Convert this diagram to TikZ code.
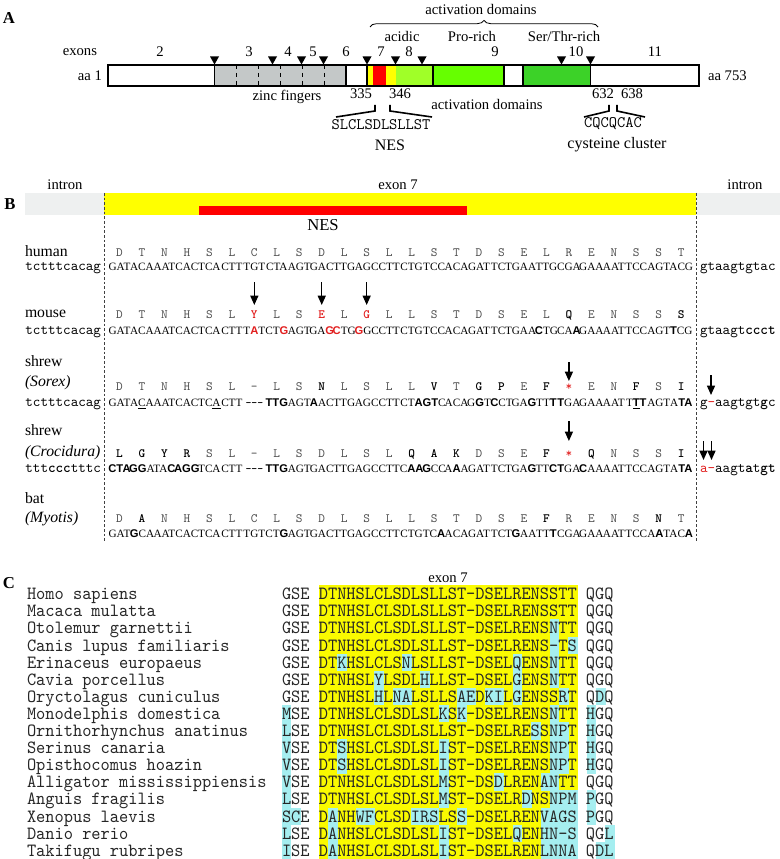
\documentclass[tikz,border=0pt]{standalone}
\usepackage{fontspec}
\setmainfont{Liberation Serif}
\setsansfont{Liberation Sans}
\newfontfamily\cmono{lmmono10-regular.otf}[FakeStretch=0.94]
\usetikzlibrary{arrows.meta,decorations.pathreplacing}
\definecolor{znc}{RGB}{196,200,200}
\definecolor{ylw}{RGB}{255,255,0}
\definecolor{nesred}{RGB}{255,0,0}
\definecolor{lgreen}{RGB}{160,255,40}
\definecolor{mgreen}{RGB}{102,255,0}
\definecolor{dgreen}{RGB}{60,210,40}
\definecolor{introng}{RGB}{238,240,240}
\definecolor{cyanh}{RGB}{165,238,240}
\definecolor{ylwc}{RGB}{250,250,0}
\definecolor{mred}{RGB}{225,30,30}
\newcommand\bb[1]{{\bfseries\color{black}#1}}
\newcommand\rb[1]{{\bfseries\color{mred}#1}}
\newcommand\rs{{\color{mred}*}}
\newcommand\db[1]{{\sffamily\bfseries #1}}
\newcommand\rd[1]{{\sffamily\bfseries\color{mred}#1}}
\newcommand\gp{{\ttfamily\bfseries -{}-{}-}}
\newcommand\uln[1]{\underline{#1}}
\newcommand\seqrow[4]{%
  \foreach \a/\c [count=\i from 0] in {#4} {
    \node[aa] (#1a\i) at ({119.5+22.47*\i},#2) {\a};
    \node[dna] (#1d\i) at ({119.5+22.47*\i},#3) {\c};
  }}
\begin{document}
\begin{tikzpicture}[x=0.75pt,y=-0.75pt,
  every node/.style={inner sep=0pt,outer sep=0pt},
  lbl/.style={font=\fontsize{11}{13}\selectfont},
  panel/.style={font=\fontsize{12.5}{14}\selectfont\bfseries},
  aa/.style={anchor=base,font=\ttfamily\fontsize{9.5}{11}\selectfont,text=black!70},
  dna/.style={anchor=base,font=\fontsize{8.4}{10}\selectfont},
  intr/.style={font=\ttfamily\fontsize{10.8}{12}\selectfont},
  spec/.style={anchor=base west,font=\fontsize{11.8}{13}\selectfont},
  cseq/.style={anchor=base west,font=\cmono\fontsize{14}{16}\selectfont,text=black!85},
  arr/.style={-{Triangle[length=7pt,width=6pt]},line width=1pt},
  brk/.style={line width=1.2pt},
  sep/.style={dash pattern=on 2pt off 1.5pt,line width=0.5pt,black!75}]
\useasboundingbox (0,0) rectangle (780,859);

% ---------------- Panel A
\node[panel] (pA) at (9,18) {A};
\node[lbl] (actTop) at (481,9) {activation domains};
\draw[decorate,decoration={brace,amplitude=5pt},line width=0.6pt] (370,27) -- (598,27);
\node[lbl] (acid) at (402,36) {acidic};
\node[lbl] (pro) at (472,36) {Pro-rich};
\node[lbl] (ser) at (564,36) {Ser/Thr-rich};

\draw[line width=0.9pt,fill=white] (108,65) rectangle (699,86);
\draw[line width=0.9pt,fill=znc] (214.5,65) rectangle (346,86);
\foreach \x in {236,258,280,302,324} \draw[dashed,line width=0.5pt] (\x,65) -- (\x,86);
\fill[ylw] (367,65) rectangle (395.5,86);
\fill[nesred] (373,65) rectangle (386,86);
\fill[lgreen] (395.5,65) rectangle (433,86);
\draw[line width=0.9pt] (367,65) rectangle (433,86);
\draw[line width=0.9pt,fill=mgreen] (433,65) rectangle (504,86);
\draw[line width=0.9pt,fill=dgreen] (523,65) rectangle (590.5,86);
\draw[line width=0.9pt] (108,65) rectangle (699,86);
\foreach \x in {214.5,272.5,301.5,323.5,367,395.5,422,561.5,590.5}
  \fill (\x-4.5,56.5) -- (\x+4.5,56.5) -- (\x,64.5) -- cycle;
\foreach \t/\x in {2/160,3/249,4/288,5/313,6/346,7/381,8/409,9/495,10/576,11/655}
  \node[lbl] (ex\t) at (\x,52) {\t};
\node[lbl,anchor=east] (exons) at (97,52) {exons};
\node[lbl,anchor=east] (aa1) at (102,76) {aa 1};
\node[lbl,anchor=west] (aa753) at (708,76) {aa 753};
\node[lbl] (zinc) at (287,97) {zinc fingers};
\node[lbl] (n335) at (361,94) {335};
\node[lbl] (n346) at (400,94) {346};
\node[lbl] (actBot) at (487,104) {activation domains};
\node[lbl] (n632) at (603,94) {632};
\node[lbl] (n638) at (632,94) {638};
\draw[brk] (375,105) -- (375,111) -- (336,117);
\draw[brk] (390,105) -- (390,111) -- (432,117);
\draw[brk] (609,105) -- (609,111) -- (584,117);
\draw[brk] (617,105) -- (617,111) -- (645,117);
\node[font=\ttfamily\fontsize{12}{14}\selectfont] (nesseq) at (381,125) {SLCLSDLSLLST};
\node[font=\fontsize{12}{14}\selectfont] (nesA) at (390,145) {NES};
\node[font=\ttfamily\fontsize{12}{14}\selectfont] (cysseq) at (613,124) {CQCQCAC};
\node[font=\fontsize{12}{14}\selectfont] (cys) at (617,145) {cysteine cluster};

% ---------------- Panel B
\node[panel] (pB) at (10,204) {B};
\node[lbl] (inL) at (65,185) {intron};
\node[lbl] (ex7) at (398,185) {exon 7};
\node[lbl] (inR) at (745,185) {intron};
\fill[introng] (25,193) rectangle (104,215);
\fill[ylw] (104,193) rectangle (696,215);
\fill[introng] (696,193) rectangle (780,215);
\fill[nesred] (199,206.5) rectangle (467,215);
\node[font=\fontsize{12.5}{14}\selectfont] (nesB) at (323,225) {NES};
\coordinate (sepL1) at (104,193); \coordinate (sepL2) at (104,543);
\coordinate (sepR1) at (696,193); \coordinate (sepR2) at (696,543);
\draw[sep] (sepL1) -- (sepL2);
\draw[sep] (sepR1) -- (sepR2);

% species labels
\node[spec] (lhum) at (25,256) {human};
\node[spec] (lmou) at (25,317) {mouse};
\node[spec] (lsh1) at (25,366) {shrew};
\node[spec] (lsor) at (25,386) {\itshape (Sorex)};
\node[spec] (lsh2) at (25,435) {shrew};
\node[spec] (lcro) at (25,456) {\itshape (Crocidura)};
\node[spec] (lbat) at (25,503) {bat};
\node[spec] (lmyo) at (25,522) {\itshape (Myotis)};

% intron flanks
\node[intr,anchor=base east] (ihL) at (101,270) {tctttcacag};
\node[intr,anchor=base west] (ihR) at (700,270) {gtaagtgtac};
\node[intr,anchor=base east] (imL) at (101,334) {tctttcacag};
\node[intr,anchor=base west] (imR) at (700,334) {gtaagt\textbf{ccct}};
\node[intr,anchor=base east] (isL) at (101,406) {tctttcacag};
\node[intr,anchor=base west] (isR) at (700,406) {g{\color{mred}-}aagtgt\textbf{g}c};
\node[intr,anchor=base east] (icL) at (101,472) {ttt\textbf{ccc}tttc};
\node[intr,anchor=base west] (icR) at (700,472) {{\color{mred}a-}aagt\textbf{a}t\textbf{gt}};

% sequences
\seqrow{hu}{256}{270}{D/GAT,T/ACA,N/AAT,H/CAC,S/TCA,L/CTT,C/TGT,L/CTA,S/AGT,D/GAC,L/TTG,S/AGC,L/CTT,L/CTG,S/TCC,T/ACA,D/GAT,S/TCT,E/GAA,L/TTG,R/CGA,E/GAA,N/AAT,S/TCC,S/AGT,T/ACG}
\seqrow{mo}{318}{334}{D/GAT,T/ACA,N/AAT,H/CAC,S/TCA,L/CTT,\rb{Y}/T\rd{A}T,L/CT\rd{G},S/AGT,\rb{E}/GA\rd{G},L/\rd{C}TG,\rb{G}/\rd{G}GC,L/CTT,L/CTG,S/TCC,T/ACA,D/GAT,S/TCT,E/GAA,L/\db{C}TG,\bb{Q}/CA\db{A},E/GAA,N/AAT,S/TCC,S/AGT,\bb{S}/\db{T}CG}
\seqrow{so}{390}{406}{D/GAT,T/A\uln{C}A,N/AAT,H/CAC,S/TC\uln{A},L/CTT,-/\gp,L/\db{TTG},S/AGT,\bb{N}/\db{A}AC,L/TTG,S/AGC,L/CTT,L/CT\db{A},\bb{V}/\db{GT}C,T/ACA,\bb{G}/G\db{G}T,\bb{P}/\db{C}CT,E/GA\db{G},\bb{F}/TT\db{T},\rs/\db{T}GA,E/GAA,N/AAT,\bb{F}/T\uln{\db{T}}\db{T},S/AGT,\bb{I}/A\db{TA}}
\seqrow{cr}{457}{472}{\bb{L}/\db{CTA},\bb{G}/\db{GG}A,\bb{Y}/TA\db{C},\bb{R}/\db{AGG},S/TCA,L/CTT,-/\gp,L/\db{TTG},S/AGT,D/GAC,L/TTG,S/AGC,L/CTT,\bb{Q}/C\db{AA},\bb{A}/\db{G}CC,\bb{K}/A\db{A}A,D/GAT,S/TCT,E/GA\db{G},\bb{F}/TT\db{C},\rs/\db{T}GA,\bb{Q}/\db{C}AA,N/AAT,S/TCC,S/AGT,\bb{I}/A\db{TA}}
\seqrow{ba}{522}{537}{D/GAT,\bb{A}/\db{G}CA,N/AAT,H/CAC,S/TCA,L/CTT,C/TGT,L/CT\db{G},S/AGT,D/GAC,L/TTG,S/AGC,L/CTT,L/CTG,S/TC\db{A},T/ACA,D/GAT,S/TCT,E/\db{G}AA,\bb{F}/TT\db{T},R/CGA,E/GAA,N/AAT,S/TCC,\bb{N}/A\db{A}T,T/AC\db{A}}

% arrows
\foreach \j in {6,9,11} {
  \coordinate (ma\j) at ({119.5+22.47*\j},282);
  \coordinate (mb\j) at ({119.5+22.47*\j},305);
  \draw[arr] (ma\j) -- (mb\j);
}
\coordinate (sa) at ({119.5+22.47*20},362);
\coordinate (sb) at ({119.5+22.47*20},381);
\draw[arr] (sa) -- (sb);
\coordinate (ca) at ({119.5+22.47*20},421);
\coordinate (cb) at ({119.5+22.47*20},441);
\draw[arr] (ca) -- (cb);
\coordinate (sr) at (711,375);
\coordinate (srb) at (711,395);
\draw[arr] (sr) -- (srb);
\coordinate (cr1) at (703.5,441);
\coordinate (cr1b) at (703.5,460);
\draw[arr] (cr1) -- (cr1b);
\coordinate (cr2) at (711.5,441);
\coordinate (cr2b) at (711.5,460);
\draw[arr] (cr2) -- (cr2b);

% ---------------- Panel C
\node[panel] (pC) at (9,583) {C};
\node[lbl] (cex7) at (448,578) {exon 7};
\fill[ylwc] ({282+4*9.24},585.45) rectangle ({282+32*9.24},859);
\foreach \r/\c in {2/29,3/29,3/31,4/6,4/13,4/25,4/29,5/10,5/15,5/25,5/29,6/10,6/12,6/13,6/19,6/20,6/22,6/23,6/25,6/30,6/34,7/0,7/17,7/19,7/29,7/33,8/0,8/27,8/29,8/30,8/33,9/0,9/6,9/17,9/29,9/30,9/33,10/0,10/6,10/17,10/29,10/30,10/33,11/0,11/17,11/23,11/28,11/29,12/0,12/17,12/26,12/29,12/30,12/31,12/33,13/0,13/1,13/5,13/8,13/9,13/14,13/15,13/16,13/19,13/28,13/29,13/30,13/31,13/33,14/0,14/5,14/17,14/25,14/28,14/29,14/30,14/31,14/35,15/0,15/5,15/17,15/28,15/29,15/30,15/31,15/34,15/35}
  \fill[cyanh] ({282+9.24*\c-0.2},{594+17.1*\r-8.75}) rectangle ({282+9.24*(\c+1)+0.2},{594+17.1*\r+8.75});
\foreach \nm/\sq [count=\k from 0] in {%
Homo sapiens/GSE DTNHSLCLSDLSLLST-DSELRENSSTT QGQ,
Macaca mulatta/GSE DTNHSLCLSDLSLLST-DSELRENSSTT QGQ,
Otolemur garnettii/GSE DTNHSLCLSDLSLLST-DSELRENSNTT QGQ,
Canis lupus familiaris/GSE DTNHSLCLSDLSLLST-DSELRENS-TS QGQ,
Erinaceus europaeus/GSE DTKHSLCLSNLSLLST-DSELQENSNTT QGQ,
Cavia porcellus/GSE DTNHSLYLSDLHLLST-DSELGENSNTT QGQ,
Oryctolagus cuniculus/GSE DTNHSLHLNALSLLSAEDKILGENSSRT QDQ,
Monodelphis domestica/MSE DTNHSLCLSDLSLKSK-DSELRENSNTT HGQ,
Ornithorhynchus anatinus/LSE DTNHSLCLSDLSLLST-DSELRESSNPT HGQ,
Serinus canaria/VSE DTSHSLCLSDLSLIST-DSELRENSNPT HGQ,
Opisthocomus hoazin/VSE DTSHSLCLSDLSLIST-DSELRENSNPT HGQ,
Alligator mississippiensis/VSE DTNHSLCLSDLSLMST-DSDLRENANTT QGQ,
Anguis fragilis/LSE DTNHSLCLSDLSLMST-DSELRDNSNPM PGQ,
Xenopus laevis/SCE DANHWFCLSDIRSLSS-DSELRENVAGS PGQ,
Danio rerio/LSE DANHSLCLSDLSLIST-DSELQENHN-S QGL,
Takifugu rubripes/ISE DANHSLCLSDLSLIST-DSELRENLNNA QDL} {
  \node[cseq] (cn\k) at (27,{594+17.1*\k+5.7}) {\nm};
  \node[cseq] (cs\k) at (282,{594+17.1*\k+5.7}) {\sq};
}
\end{tikzpicture}
\end{document}
